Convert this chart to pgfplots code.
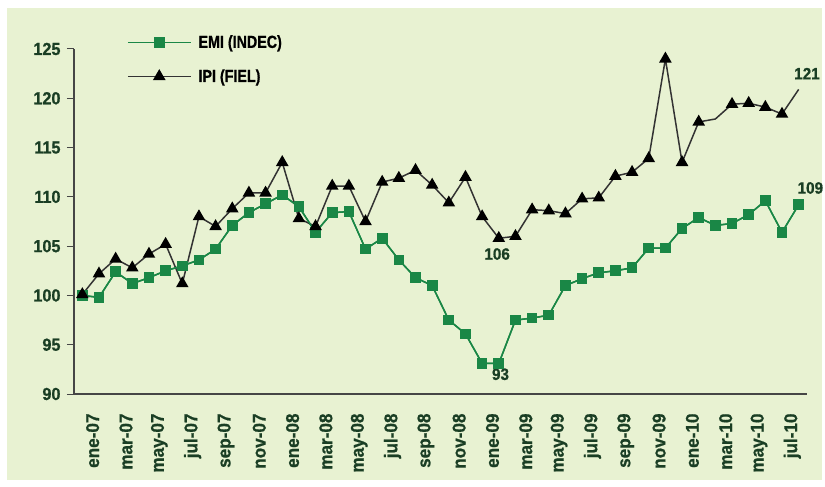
\documentclass[border=0pt]{standalone}
\usepackage{pgfplots}
\pgfplotsset{compat=1.18}
\usepackage{pgfplotstable}
\usepackage{fontspec}
\setmainfont{Liberation Sans}[FakeStretch=0.82, BoldFeatures={FakeBold=0.8}]
\newfontfamily\tickfont{Liberation Sans}[FakeStretch=0.93, BoldFeatures={FakeBold=0.8}]

\definecolor{bgcol}{RGB}{232,242,210}
\definecolor{emicol}{RGB}{26,135,70}
\definecolor{labcol}{RGB}{26,62,36}
\definecolor{axcol}{RGB}{70,70,70}

% i = mes desde ene-07
\pgfplotstableread{
i emi ipi
0 100.0 100.1
1 99.8 102.2
2 102.4 103.7
3 101.2 102.8
4 101.8 104.2
5 102.5 105.2
6 103.0 101.2
7 103.6 108.0
8 104.7 107.0
9 107.1 108.8
10 108.4 110.4
11 109.3 110.4
12 110.2 113.5
13 109.0 107.8
14 106.4 107.0
15 108.4 111.1
16 108.5 111.1
17 104.7 107.5
18 105.8 111.5
19 103.6 111.9
20 101.8 112.7
21 101.0 111.2
22 97.5 109.4
23 96.1 112.0
24 93.1 108.0
25 93.1 105.8
26 97.5 106.0
27 97.7 108.7
28 98.0 108.6
29 101.0 108.3
30 101.7 109.8
31 102.3 109.9
32 102.5 112.1
33 102.8 112.5
34 104.8 113.9
35 104.8 124.0
36 106.8 113.5
37 107.9 117.6
38 107.1 117.9
39 107.3 119.4
40 108.2 119.5
41 109.6 119.1
42 106.4 118.4
43 109.2 120.9
}\datos

\begin{document}
\begin{tikzpicture}
\path[use as bounding box] (-74bp,-93bp) rectangle (751bp,394bp);
\fill[bgcol] (-67bp,-86bp) rectangle (748bp,386bp);
\begin{axis}[
  at={(0,0)}, anchor=south west,
  scale only axis, width=733bp, height=345bp,
  xmin=-0.5, xmax=43.5, ymin=90, ymax=125,
  axis lines*=left, axis line style={axcol, line width=1.4pt, -},
  clip=false,
  ytick={90,95,...,125},
  xtick={0.62,2.62,...,42.62},
  xticklabels={ene-07,mar-07,may-07,jul-07,sep-07,nov-07,
    ene-08,mar-08,may-08,jul-08,sep-08,nov-08,
    ene-09,mar-09,may-09,jul-09,sep-09,nov-09,
    ene-10,mar-10,may-10,jul-10},
  minor xtick={-0.5,1.5,...,43.5},
  tick align=outside, major tick length=7bp, minor tick length=7bp,
  xtick style={draw=none},
  minor x tick style={axcol, line width=1pt},
  ytick style={axcol, line width=1pt},
  /pgf/number format/assume math mode=true,
  tick label style={text=labcol},
  yticklabel style={font=\tickfont\bfseries\fontsize{17.5}{20}\selectfont},
  xticklabel style={font=\tickfont\bfseries\fontsize{18.5}{20}\selectfont,
    rotate=90, anchor=east},
  xticklabel shift=9bp, yticklabel shift=3bp,
  legend cell align=left,
  legend style={draw=none, fill=none, at={(0.068,1.052)}, anchor=north west,
    font=\bfseries\fontsize{17.5}{20}\selectfont, row sep=16bp, column sep=5bp},
  legend image code/.code={
    \draw[sharp plot, mark repeat=2, mark phase=2] plot coordinates {(0bp,0bp)(31.5bp,0bp)(63bp,0bp)};},
]
\addplot[emicol, line width=1.5pt, mark=square*, mark size=4.6bp,
  mark options={fill=emicol, draw=emicol, solid}] table[x=i, y=emi] {\datos};
\addlegendentry{EMI (INDEC)}
\addplot[black!80, line width=1.5pt, only marks, mark=triangle*, mark size=5.8bp,
  mark options={fill=black, draw=black, solid},
  skip coords between index={38}{39}, skip coords between index={43}{44}]
  table[x=i, y=ipi] {\datos};
\addlegendentry{IPI (FIEL)}
\addplot[black!80, line width=1.5pt, forget plot] table[x=i, y=ipi] {\datos};
\addplot[emicol, line width=1.5pt, forget plot] table[x=i, y=emi] {\datos};
\begin{scope}[every node/.style={font=\tickfont\bfseries\fontsize{16.5}{20}\selectfont, text=labcol}]
\node at (axis cs:24.9,104.2) {106};
\node at (axis cs:25.1,92.0) {93};
\node at (axis cs:43.5,122.5) {121};
\node at (axis cs:43.7,110.9) {109};
\end{scope}
\end{axis}
\end{tikzpicture}
\end{document}
